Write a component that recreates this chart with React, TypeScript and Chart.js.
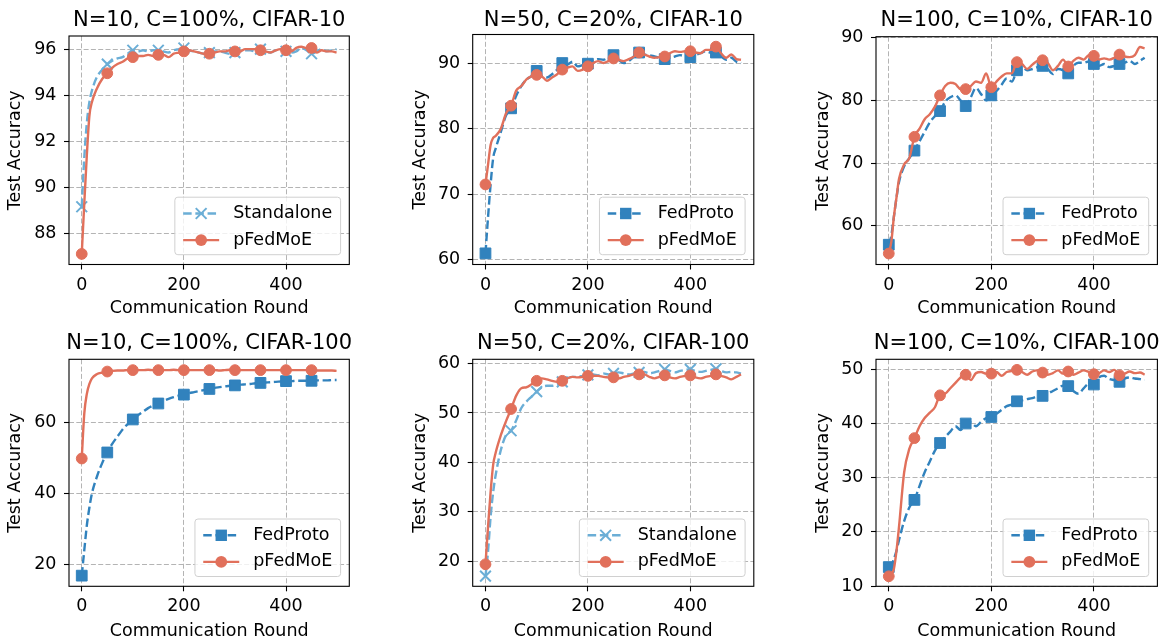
import React, { useEffect, useRef } from "react";
import { Chart, registerables } from "chart.js";

Chart.register(...registerables);
Chart.defaults.font.family = "'DejaVu Sans', sans-serif";
Chart.defaults.color = "#000";

// ---------------- DATA ----------------
const ROUNDS = [0, 5, 10, 15, 20, 30, 40, 50, 60, 70, 80, 90, 100, 110, 120, 130, 140, 150, 160, 170, 180, 190, 200, 210, 220, 230, 240, 250, 260, 270, 280, 290, 300, 310, 320, 330, 340, 350, 360, 370, 380, 390, 400, 410, 420, 430, 440, 450, 460, 470, 480, 490, 499];
const X_TICKS = [0, 200, 400];

// N=10, C=100%, CIFAR-10
const C10_N10_STANDALONE = [89.15, 91.3, 92.8, 93.7, 94.2, 94.8, 95.1, 95.35, 95.5, 95.6, 95.65, 95.8, 95.95, 95.9, 95.95, 95.9, 95.95, 95.95, 95.9, 95.85, 95.95, 96.0, 96.05, 95.95, 95.9, 95.85, 95.8, 95.85, 95.9, 95.9, 95.85, 95.8, 95.85, 95.9, 95.95, 95.95, 95.9, 96.0, 95.9, 95.85, 95.95, 96.0, 95.9, 95.85, 95.9, 96.05, 95.95, 95.8, 95.9, 96.0, 95.9, 95.95, 96.0];
const C10_N10_PFEDMOE = [87.1, 89.3, 91.4, 93.1, 93.7, 94.3, 94.7, 94.95, 95.2, 95.35, 95.45, 95.6, 95.65, 95.7, 95.7, 95.75, 95.7, 95.75, 95.75, 95.65, 95.8, 95.85, 95.9, 95.95, 95.9, 95.85, 95.8, 95.8, 95.85, 95.9, 95.9, 95.95, 95.9, 95.9, 96.0, 96.0, 96.0, 95.95, 95.9, 95.85, 95.95, 96.0, 95.95, 95.9, 96.05, 96.1, 96.05, 96.05, 95.85, 95.95, 95.9, 95.9, 95.85];
const Y_TICKS_1 = [88, 90, 92, 94, 96];

// N=50, C=20%, CIFAR-10
const C10_N50_FEDPROTO = [61.0, 66.5, 71.5, 75.5, 77.0, 79.5, 82.0, 83.1, 85.0, 86.5, 87.5, 88.0, 88.8, 88.0, 87.8, 88.3, 89.0, 90.0, 89.8, 90.2, 89.5, 89.7, 89.9, 90.3, 90.6, 90.5, 90.8, 91.2, 90.5, 90.0, 90.3, 91.0, 91.6, 91.3, 91.2, 91.0, 90.8, 90.6, 90.8, 91.0, 91.2, 91.0, 90.9, 91.2, 91.5, 91.8, 91.6, 91.6, 91.0, 90.5, 90.8, 90.2, 90.0];
const C10_N50_PFEDMOE = [71.5, 74.5, 77.5, 78.6, 78.9, 80.0, 82.3, 83.5, 85.8, 86.5, 87.5, 88.0, 88.2, 88.0, 87.3, 87.8, 88.3, 89.0, 89.3, 89.5, 88.8, 89.0, 89.5, 90.0, 90.3, 90.0, 90.3, 90.7, 90.5, 90.3, 90.6, 91.0, 91.6, 91.3, 91.0, 90.8, 90.9, 91.0, 91.5, 91.8, 91.7, 91.8, 91.8, 91.6, 91.5, 92.0, 92.0, 92.5, 91.5, 90.8, 91.3, 90.6, 90.5];
const Y_TICKS_2 = [60, 70, 80, 90];

// N=100, C=10%, CIFAR-10
const C10_N100_FEDPROTO = [57.0, 58.5, 61.5, 64.5, 67.0, 69.5, 70.8, 72.0, 73.5, 75.0, 76.5, 77.5, 78.3, 79.8, 80.5, 80.8, 80.0, 79.1, 80.5, 82.0, 81.0, 80.0, 80.8, 81.5, 82.5, 83.5, 83.0, 84.8, 85.3, 84.8, 85.0, 85.3, 85.5, 85.0, 84.2, 85.0, 84.8, 84.3, 85.5, 86.0, 86.0, 86.2, 85.8, 85.5, 85.8, 85.3, 85.5, 85.8, 86.0, 86.3, 85.8, 86.3, 86.8];
const C10_N100_PFEDMOE = [55.6, 57.5, 61.5, 64.5, 67.5, 69.8, 70.8, 74.2, 75.5, 77.0, 77.8, 79.0, 80.8, 82.3, 82.8, 82.6, 81.8, 81.8, 82.3, 83.0, 82.8, 84.3, 82.1, 83.0, 83.8, 84.3, 84.3, 86.1, 85.8, 85.0, 85.7, 86.3, 86.4, 86.0, 84.8, 85.5, 86.5, 85.4, 86.3, 86.8, 86.5, 87.2, 87.1, 86.5, 86.7, 86.5, 86.8, 87.3, 87.0, 86.9, 87.2, 88.5, 88.3];
const Y_TICKS_3 = [60, 70, 80, 90];

// N=10, C=100%, CIFAR-100
const C100_N10_FEDPROTO = [16.8, 24.0, 31.0, 36.0, 40.0, 44.8, 48.5, 51.5, 54.0, 56.0, 58.0, 59.5, 60.8, 62.0, 63.0, 64.0, 64.7, 65.3, 66.0, 66.6, 67.1, 67.5, 67.8, 68.2, 68.5, 68.8, 69.1, 69.4, 69.7, 69.9, 70.1, 70.3, 70.4, 70.6, 70.7, 70.8, 71.0, 71.1, 71.2, 71.3, 71.4, 71.5, 71.6, 71.6, 71.7, 71.7, 71.7, 71.7, 71.8, 71.8, 71.8, 71.9, 71.9];
const C100_N10_PFEDMOE = [49.8, 62.5, 68.0, 70.8, 72.4, 73.6, 74.0, 74.3, 74.5, 74.6, 74.6, 74.7, 74.7, 74.7, 74.7, 74.8, 74.7, 74.7, 74.7, 74.7, 74.8, 74.7, 74.7, 74.7, 74.7, 74.7, 74.7, 74.7, 74.7, 74.6, 74.7, 74.8, 74.7, 74.7, 74.7, 74.7, 74.7, 74.7, 74.7, 74.7, 74.7, 74.7, 74.7, 74.7, 74.7, 74.7, 74.7, 74.7, 74.6, 74.6, 74.6, 74.6, 74.5];
const Y_TICKS_4 = [20, 40, 60];

// N=50, C=20%, CIFAR-100
const C100_N50_STANDALONE = [17.0, 22.0, 29.0, 34.0, 37.5, 42.5, 45.5, 46.4, 48.5, 51.0, 52.3, 53.3, 54.3, 55.2, 55.5, 55.5, 55.8, 56.3, 57.0, 57.3, 57.3, 57.5, 57.7, 57.8, 57.6, 58.0, 57.8, 58.0, 58.2, 58.0, 57.8, 58.0, 58.2, 58.3, 58.0, 58.2, 58.5, 58.8, 58.5, 58.2, 58.5, 58.7, 58.8, 58.5, 58.3, 58.5, 58.7, 58.9, 58.5, 58.2, 58.3, 58.2, 58.0];
const C100_N50_PFEDMOE = [19.4, 27.0, 34.0, 39.5, 42.0, 45.5, 48.3, 50.8, 53.5, 55.0, 55.2, 55.8, 56.5, 57.0, 56.8, 56.5, 56.3, 56.5, 57.0, 57.3, 57.2, 57.3, 57.5, 57.5, 57.5, 57.3, 57.2, 57.2, 57.0, 57.3, 57.5, 57.8, 57.8, 57.8, 57.3, 57.0, 57.3, 57.6, 57.2, 57.0, 57.3, 57.5, 57.6, 57.2, 57.0, 57.3, 57.5, 57.8, 57.5, 57.2, 56.8, 57.3, 57.8];
const Y_TICKS_5 = [20, 30, 40, 50, 60];

// N=100, C=10%, CIFAR-100
const C100_N100_FEDPROTO = [13.5, 13.8, 15.0, 16.5, 18.5, 22.0, 24.5, 25.9, 28.5, 31.0, 33.0, 35.0, 36.4, 37.5, 38.5, 39.5, 38.8, 40.0, 40.2, 39.5, 40.3, 41.0, 41.2, 41.8, 42.5, 43.2, 43.5, 44.1, 44.3, 44.5, 44.7, 45.0, 45.1, 45.5, 46.0, 46.5, 47.0, 46.9, 46.0, 45.5, 46.5, 47.3, 47.2, 48.5, 48.8, 48.2, 48.0, 47.7, 48.3, 48.5, 48.3, 48.2, 48.0];
const C100_N100_PFEDMOE = [11.8, 12.2, 13.2, 16.5, 21.0, 31.0, 35.3, 37.3, 39.5, 41.0, 42.0, 43.0, 45.2, 45.5, 46.5, 47.5, 48.5, 49.0, 48.0, 49.3, 49.5, 49.2, 49.2, 49.5, 48.8, 49.5, 49.7, 49.9, 49.5, 49.0, 49.6, 49.8, 49.4, 49.0, 49.3, 49.8, 49.2, 49.6, 49.0, 49.4, 49.8, 49.5, 49.1, 49.3, 49.8, 49.5, 49.9, 48.9, 49.2, 49.6, 49.3, 49.4, 49.0];
const Y_TICKS_6 = [10, 20, 30, 40, 50];

const TITLES = [
  "N=10, C=100%, CIFAR-10",
  "N=50, C=20%, CIFAR-10",
  "N=100, C=10%, CIFAR-10",
  "N=10, C=100%, CIFAR-100",
  "N=50, C=20%, CIFAR-100",
  "N=100, C=10%, CIFAR-100",
];

// ---------------- STYLE ----------------
const RED = "#e1705b";
const BLUE = "#3182bd";
const LIGHT = "#6baed6";
const FONT = "'DejaVu Sans', sans-serif";
const FS = 17.5;
const DASH = [8.5, 3.7];
const LW = 2.4;

type Marker = "circle" | "rect" | "cross";
type SeriesDef = { label: string; values: number[]; color: string; dashed: boolean; marker: Marker };

const pfed = (values: number[]): SeriesDef => ({ label: "pFedMoE", values, color: RED, dashed: false, marker: "circle" });
const proto = (values: number[]): SeriesDef => ({ label: "FedProto", values, color: BLUE, dashed: true, marker: "rect" });
const stand = (values: number[]): SeriesDef => ({ label: "Standalone", values, color: LIGHT, dashed: true, marker: "cross" });

type Box = { cx: number; cy: number; cw: number; ch: number; L: number; T: number; R: number; B: number; yTitleX: number; titleBase: number; pb: number };

const COLS = [
  { cx: 0, cw: 388, L: 69, R: 349.3, yTitleX: 15.7 },
  { cx: 388, cw: 388, L: 472.7, R: 753.8, yTitleX: 420.7 },
  { cx: 776, cw: 390, L: 876, R: 1157.5, yTitleX: 823.3 },
];
const ROWS = [
  { cy: 0, ch: 320, B: 264.5, titleBase: 26, pb: 1.1 },
  { cy: 320, ch: 323, B: 586.3, titleBase: 349, pb: 0.8 },
];
const TOPS = [36, 34.5, 36.7, 359.3, 359.3, 359.3];

const PANELS = [
  { series: [stand(C10_N10_STANDALONE), pfed(C10_N10_PFEDMOE)], yMin: 86.64, yMax: 96.57, yTicks: Y_TICKS_1 },
  { series: [proto(C10_N50_FEDPROTO), pfed(C10_N50_PFEDMOE)], yMin: 59.3, yMax: 94.35, yTicks: Y_TICKS_2 },
  { series: [proto(C10_N100_FEDPROTO), pfed(C10_N100_PFEDMOE)], yMin: 53.85, yMax: 90.15, yTicks: Y_TICKS_3 },
  { series: [proto(C100_N10_FEDPROTO), pfed(C100_N10_PFEDMOE)], yMin: 13.8, yMax: 77.75, yTicks: Y_TICKS_4 },
  { series: [stand(C100_N50_STANDALONE), pfed(C100_N50_PFEDMOE)], yMin: 14.95, yMax: 60.85, yTicks: Y_TICKS_5 },
  { series: [proto(C100_N100_FEDPROTO), pfed(C100_N100_PFEDMOE)], yMin: 9.95, yMax: 51.85, yTicks: Y_TICKS_6 },
];

function boxFor(i: number): Box {
  const c = COLS[i % 3];
  const r = ROWS[Math.floor(i / 3)];
  return { cx: c.cx, cy: r.cy, cw: c.cw, ch: r.ch, L: c.L, R: c.R, T: TOPS[i], B: r.B, yTitleX: c.yTitleX, titleBase: r.titleBase, pb: r.pb };
}

function drawMarker(ctx: CanvasRenderingContext2D, m: Marker, x: number, y: number, color: string) {
  ctx.save();
  ctx.fillStyle = color;
  ctx.strokeStyle = color;
  ctx.setLineDash([]);
  if (m === "circle") {
    ctx.beginPath();
    ctx.arc(x, y, 5.9, 0, Math.PI * 2);
    ctx.fill();
  } else if (m === "rect") {
    ctx.fillRect(x - 5.7, y - 5.7, 11.4, 11.4);
  } else {
    ctx.lineWidth = 2;
    const h = 5.4;
    ctx.beginPath();
    ctx.moveTo(x - h, y - h);
    ctx.lineTo(x + h, y + h);
    ctx.moveTo(x - h, y + h);
    ctx.lineTo(x + h, y - h);
    ctx.stroke();
  }
  ctx.restore();
}

function isMarkerRound(r: number) {
  return r % 50 === 0 && r <= 450;
}

function Panel({ index }: { index: number }) {
  const ref = useRef<HTMLCanvasElement>(null);
  const panel = PANELS[index];
  const box = boxFor(index);

  useEffect(() => {
    if (!ref.current) return;
    const pl = box.yTitleX - box.cx - FS * 0.6;
    const yw = box.L - box.cx - pl;
    const pr = box.cx + box.cw - box.R;
    const pt = box.T - box.cy;
    const xh = box.cy + box.ch - box.pb - box.B;

    const framePlugin = {
      id: "frame" + index,
      afterDatasetsDraw(chart: any) {
        const { ctx, chartArea: a } = chart;
        ctx.save();
        ctx.strokeStyle = "#000";
        ctx.lineWidth = 1.1;
        ctx.setLineDash([]);
        ctx.strokeRect(a.left, a.top, a.right - a.left, a.bottom - a.top);
        ctx.restore();
      },
    };

    const overlayPlugin = {
      id: "overlay" + index,
      afterDraw(chart: any) {
        const { ctx, chartArea: a } = chart;
        ctx.save();
        // title
        ctx.font = `21px ${FONT}`;
        ctx.fillStyle = "#000";
        ctx.textAlign = "center";
        ctx.textBaseline = "alphabetic";
        ctx.fillText(TITLES[index], (a.left + a.right) / 2, box.titleBase - box.cy);

        // legend
        ctx.font = `${FS}px ${FONT}`;
        const tw = Math.max(...panel.series.map((s) => ctx.measureText(s.label).width));
        const w = tw + 66.7;
        const h = 57.5;
        const x0 = a.right - 8.7 - w;
        const y0 = a.bottom - 9.8 - h;
        ctx.beginPath();
        const rr = 3;
        ctx.moveTo(x0 + rr, y0);
        ctx.lineTo(x0 + w - rr, y0);
        ctx.arcTo(x0 + w, y0, x0 + w, y0 + rr, rr);
        ctx.lineTo(x0 + w, y0 + h - rr);
        ctx.arcTo(x0 + w, y0 + h, x0 + w - rr, y0 + h, rr);
        ctx.lineTo(x0 + rr, y0 + h);
        ctx.arcTo(x0, y0 + h, x0, y0 + h - rr, rr);
        ctx.lineTo(x0, y0 + rr);
        ctx.arcTo(x0, y0, x0 + rr, y0, rr);
        ctx.closePath();
        ctx.fillStyle = "rgba(255,255,255,0.8)";
        ctx.fill();
        ctx.strokeStyle = "#d0d0d0";
        ctx.lineWidth = 1;
        ctx.stroke();

        panel.series.forEach((s, i) => {
          const yy = y0 + 16.3 + i * 26.6;
          const hx0 = x0 + 8.3;
          const hx1 = hx0 + 36;
          ctx.save();
          ctx.strokeStyle = s.color;
          ctx.lineWidth = LW;
          ctx.setLineDash(s.dashed ? DASH : []);
          ctx.beginPath();
          ctx.moveTo(hx0, yy);
          ctx.lineTo(hx1, yy);
          ctx.stroke();
          ctx.restore();
          drawMarker(ctx, s.marker, (hx0 + hx1) / 2, yy, s.color);
          ctx.fillStyle = "#000";
          ctx.textAlign = "left";
          ctx.textBaseline = "middle";
          ctx.fillText(s.label, hx1 + 14, yy);
        });
        ctx.restore();
      },
    };

    const datasets = panel.series.map((s, si) => ({
      label: s.label,
      data: ROUNDS.map((r, i) => ({ x: r, y: s.values[i] })),
      borderColor: s.color,
      backgroundColor: s.color,
      borderWidth: LW,
      borderDash: s.dashed ? DASH : [],
      cubicInterpolationMode: "monotone" as const,
      fill: false,
      order: si === panel.series.length - 1 ? 0 : 1,
      pointStyle: s.marker === "circle" ? "circle" : s.marker === "rect" ? "rect" : "crossRot",
      pointBackgroundColor: s.color,
      pointBorderColor: s.color,
      pointBorderWidth: s.marker === "cross" ? 2 : 1,
      pointRadius: (c: any) => (isMarkerRound(ROUNDS[c.dataIndex]) ? (s.marker === "circle" ? 5.4 : s.marker === "rect" ? 7.6 : 7.6) : 0),
      pointHoverRadius: 0,
    }));

    const gridCommon = {
      color: "#b4b4b4",
      lineWidth: 1,
      drawTicks: true,
      tickLength: 5,
      tickColor: "#000",
      tickWidth: 1.1,
      tickBorderDash: [],
    };

    const chart = new Chart(ref.current, {
      type: "line",
      data: { datasets: datasets as any },
      options: {
        animation: false,
        responsive: false,
        devicePixelRatio: 1,
        events: [],
        layout: { padding: { left: pl, right: pr, top: pt, bottom: box.pb } },
        plugins: { legend: { display: false }, title: { display: false }, tooltip: { enabled: false } },
        scales: {
          x: {
            type: "linear",
            min: -24.95,
            max: 523.95,
            afterBuildTicks: (scale: any) => {
              scale.ticks = X_TICKS.map((v) => ({ value: v }));
            },
            afterFit: (scale: any) => {
              scale.height = xh;
            },
            ticks: { font: { size: FS, family: FONT }, color: "#000", padding: 5, maxRotation: 0, minRotation: 0, autoSkip: false },
            grid: gridCommon,
            border: { display: false, dash: [5, 2.3] },
            title: { display: true, text: "Communication Round", font: { size: FS, family: FONT }, color: "#000", padding: { top: 0, bottom: 0 } },
          },
          y: {
            type: "linear",
            min: panel.yMin,
            max: panel.yMax,
            afterBuildTicks: (scale: any) => {
              scale.ticks = panel.yTicks.map((v) => ({ value: v }));
            },
            afterFit: (scale: any) => {
              scale.width = yw;
            },
            ticks: { font: { size: FS, family: FONT }, color: "#000", padding: 7.5, autoSkip: false },
            grid: gridCommon,
            border: { display: false, dash: [5, 2.3] },
            title: { display: true, text: "Test Accuracy", font: { size: FS, family: FONT }, color: "#000", padding: { top: 0, bottom: 0 } },
          },
        },
      } as any,
      plugins: [framePlugin, overlayPlugin],
    });
    return () => chart.destroy();
  }, []);

  return (
    <canvas
      ref={ref}
      width={box.cw}
      height={box.ch}
      style={{ position: "absolute", left: box.cx, top: box.cy, width: box.cw, height: box.ch }}
    />
  );
}

export default function App() {
  return (
    <div style={{ position: "absolute", left: 0, top: 0, width: 1166, height: 643, background: "#fff", overflow: "hidden" }}>
      {PANELS.map((_, i) => (
        <Panel key={i} index={i} />
      ))}
    </div>
  );
}
